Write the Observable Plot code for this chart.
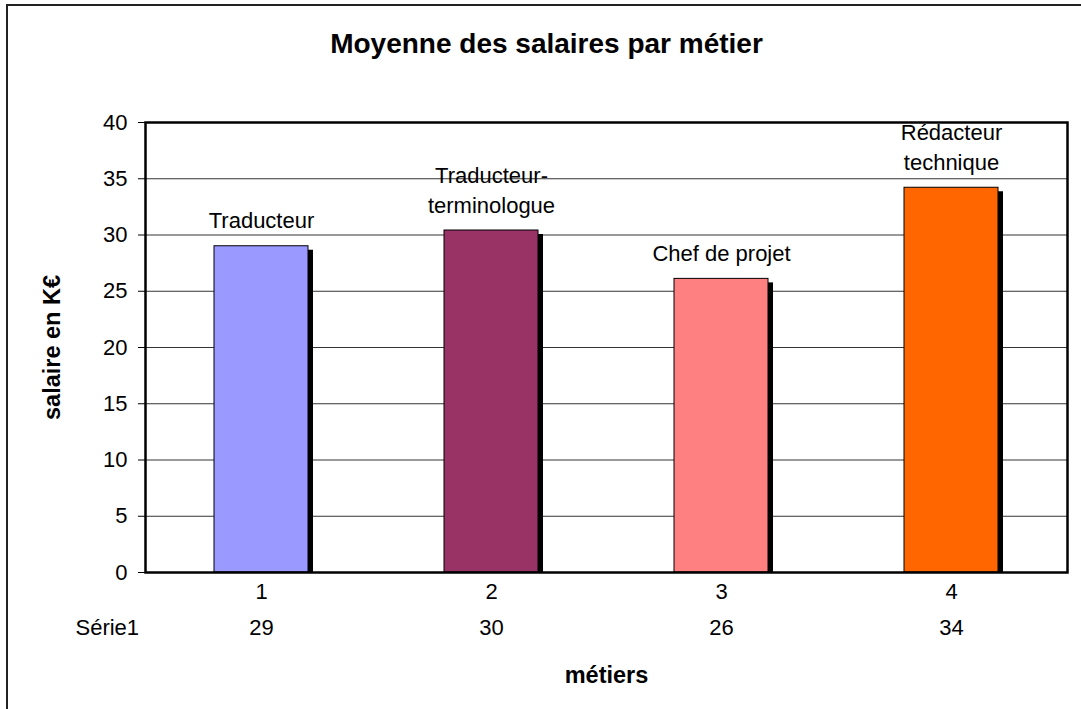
<!DOCTYPE html>
<html>
<head>
<meta charset="utf-8">
<script src="https://cdn.jsdelivr.net/npm/d3@7"></script>
<script src="https://cdn.jsdelivr.net/npm/@observablehq/plot@0.6"></script>
<style>
  html, body { margin: 0; padding: 0; background: #fff; overflow: hidden; }
  #wrap { position: relative; width: 1081px; height: 709px; }
  #border { position: absolute; left: 6px; top: 4px; width: 1200px; height: 800px;
            border-left: 2px solid #222; border-top: 2px solid #222; pointer-events: none; }
  svg { display: block; }
</style>
</head>
<body>
<div id="wrap"><div id="border"></div></div>
<script>
const categories = [1, 2, 3, 4];
const metiers = ["Traducteur", "Traducteur-\nterminologue", "Chef de projet", "Rédacteur\ntechnique"];
const salaires = [29.0, 30.4, 26.1, 34.2];
const valeursTableau = [29, 30, 26, 34];
const couleurs = ["#9999FF", "#993366", "#FF8080", "#FF6600"];
const yTicks = [0, 5, 10, 15, 20, 25, 30, 35, 40];
const titre = "Moyenne des salaires par métier";
const titreX = "métiers";
const titreY = "salaire en K€";
const serie = "Série1";

const data = categories.map((c, i) => ({
  cat: c, metier: metiers[i], val: salaires[i], tab: valeursTableau[i], color: couleurs[i]
}));

const font = "'Liberation Sans', Arial, sans-serif";

const chart = Plot.plot({
  width: 1081,
  height: 709,
  marginLeft: 145,
  marginRight: 14,
  marginTop: 122,
  marginBottom: 137,
  style: { fontFamily: font, fontSize: "22px", color: "#000", background: "transparent" },
  x: { type: "band", domain: categories, paddingInner: 0.59, paddingOuter: 0.295 },
  y: { domain: [0, 40] },
  color: { type: "identity" },
  marks: [
    Plot.gridY(yTicks, { stroke: "#000", strokeOpacity: 0.8, strokeWidth: 1 }),
    Plot.barY(data, { x: "cat", y: "val", fill: "#000", dx: 5, dy: 4, clip: true }),
    Plot.barY(data, { x: "cat", y: "val", fill: "color", stroke: "#000", strokeWidth: 1 }),
    Plot.frame({ stroke: "#000", strokeWidth: 2.5 }),
    Plot.axisY({ ticks: yTicks, tickSize: 7, tickPadding: 11, fontSize: 22, label: null, stroke: "#000" }),
    Plot.axisX({ tickSize: 0, tickPadding: 11, fontSize: 22, label: null }),
    Plot.text(data, { x: "cat", y: "val", text: "metier", lineAnchor: "bottom", dy: -18, fontSize: 22, lineHeight: 1.35 }),
    Plot.text(data, { x: "cat", text: d => String(d.tab), frameAnchor: "bottom", dy: 62, fontSize: 22 }),
    Plot.text([serie], { text: d => d, frameAnchor: "bottom-left", textAnchor: "start", dx: -70, dy: 62, fontSize: 22 }),
    Plot.text([titre], { text: d => d, frameAnchor: "top", textAnchor: "middle", lineAnchor: "bottom", dx: -60, dy: -70, fontSize: 28, fontWeight: "bold" }),
    Plot.text([titreX], { text: d => d, frameAnchor: "bottom", textAnchor: "middle", lineAnchor: "bottom", dy: 110, fontSize: 23.5, fontWeight: "bold" }),
    Plot.text([titreY], { text: d => d, frameAnchor: "left", textAnchor: "middle", rotate: -90, dx: -93, fontSize: 23.5, fontWeight: "bold" })
  ]
});
document.getElementById("wrap").appendChild(chart);
</script>
</body>
</html>
